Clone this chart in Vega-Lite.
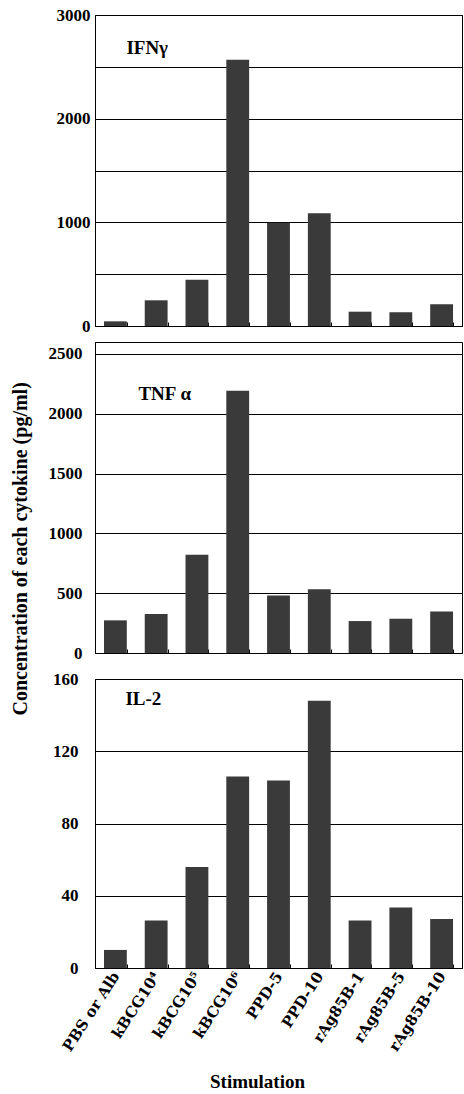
{
  "$schema": "https://vega.github.io/schema/vega-lite/v6.json",
  "background": "white",
  "padding": {"left": 10, "top": 5, "right": 0, "bottom": 0},
  "config": {
    "view": {"stroke": "black", "strokeWidth": 1},
    "font": "Liberation Serif, DejaVu Serif",
    "axisY": {
      "grid": true, "gridColor": "black", "gridOpacity": 1, "gridWidth": 1,
      "domainColor": "black", "ticks": false, "labelPadding": 8, "format": "d",
      "labelFont": "Liberation Serif, DejaVu Serif", "labelFontSize": 17, "labelFontWeight": "bold", "labelColor": "black",
      "title": null
    },
    "axisX": {
      "domainColor": "black", "tickColor": "black", "tickBand": "extent", "tickSize": -4,
      "labelFont": "DejaVu Serif", "labelFontSize": 15, "labelFontWeight": "bold", "labelColor": "black",
      "titleFont": "Liberation Serif, DejaVu Serif", "titleFontSize": 19, "titleFontWeight": "bold", "titleColor": "black"
    }
  },
  "title": {
    "text": "Concentration of each cytokine (pg/ml)", "orient": "left", "anchor": "middle",
    "font": "Liberation Serif, DejaVu Serif", "fontSize": 20, "fontWeight": "bold", "color": "black", "offset": 17
  },
  "datasets": {
    "cyt": [
      {"cytokine": "IFNγ", "stim": "PBS or Alb", "value": 45},
      {"cytokine": "IFNγ", "stim": "kBCG10⁴", "value": 248},
      {"cytokine": "IFNγ", "stim": "kBCG10⁵", "value": 447},
      {"cytokine": "IFNγ", "stim": "kBCG10⁶", "value": 2569},
      {"cytokine": "IFNγ", "stim": "PPD-5", "value": 997},
      {"cytokine": "IFNγ", "stim": "PPD-10", "value": 1087},
      {"cytokine": "IFNγ", "stim": "rAg85B-1", "value": 138},
      {"cytokine": "IFNγ", "stim": "rAg85B-5", "value": 133},
      {"cytokine": "IFNγ", "stim": "rAg85B-10", "value": 209},
      {"cytokine": "TNFα", "stim": "PBS or Alb", "value": 273},
      {"cytokine": "TNFα", "stim": "kBCG10⁴", "value": 326},
      {"cytokine": "TNFα", "stim": "kBCG10⁵", "value": 821},
      {"cytokine": "TNFα", "stim": "kBCG10⁶", "value": 2193},
      {"cytokine": "TNFα", "stim": "PPD-5", "value": 481},
      {"cytokine": "TNFα", "stim": "PPD-10", "value": 534},
      {"cytokine": "TNFα", "stim": "rAg85B-1", "value": 267},
      {"cytokine": "TNFα", "stim": "rAg85B-5", "value": 286},
      {"cytokine": "TNFα", "stim": "rAg85B-10", "value": 347},
      {"cytokine": "IL-2", "stim": "PBS or Alb", "value": 10},
      {"cytokine": "IL-2", "stim": "kBCG10⁴", "value": 26.3},
      {"cytokine": "IL-2", "stim": "kBCG10⁵", "value": 55.9},
      {"cytokine": "IL-2", "stim": "kBCG10⁶", "value": 106},
      {"cytokine": "IL-2", "stim": "PPD-5", "value": 103.8},
      {"cytokine": "IL-2", "stim": "PPD-10", "value": 147.9},
      {"cytokine": "IL-2", "stim": "rAg85B-1", "value": 26.3},
      {"cytokine": "IL-2", "stim": "rAg85B-5", "value": 33.5},
      {"cytokine": "IL-2", "stim": "rAg85B-10", "value": 27.1}
    ]
  },
  "spacing": 6,
  "vconcat": [
    {
      "width": 367, "height": 311,
      "layer": [
        {
          "data": {"name": "cyt"},
          "transform": [{"filter": "datum.cytokine === 'IFNγ'"}],
          "mark": {"type": "bar", "color": "#3a3a3a"},
          "encoding": {
            "x": {"field": "stim", "type": "nominal",
                  "sort": ["PBS or Alb", "kBCG10⁴", "kBCG10⁵", "kBCG10⁶", "PPD-5", "PPD-10", "rAg85B-1", "rAg85B-5", "rAg85B-10"],
                  "scale": {"paddingInner": 0.44, "paddingOuter": 0.22},
                  "axis": {"labels": false, "title": null}},
            "y": {"field": "value", "type": "quantitative", "scale": {"domain": [0, 3000]},
                  "axis": {"values": [0, 500, 1000, 1500, 2000, 2500, 3000], "labelPadding": 5,
                           "labelExpr": "datum.value % 1000 === 0 ? datum.label : ''"}}
          }
        },
        {
          "data": {"values": [{"label": "IFNγ"}]},
          "mark": {"type": "text", "align": "left", "baseline": "middle", "dx": 11,
                   "font": "Liberation Serif, DejaVu Serif", "fontSize": 19, "fontWeight": "bold", "color": "black"},
          "encoding": {
            "x": {"datum": "PBS or Alb", "type": "nominal"},
            "y": {"datum": 2686, "type": "quantitative"},
            "text": {"field": "label"}
          }
        }
      ]
    },
    {
      "width": 367, "height": 311,
      "layer": [
        {
          "data": {"name": "cyt"},
          "transform": [{"filter": "datum.cytokine === 'TNFα'"}],
          "mark": {"type": "bar", "color": "#3a3a3a"},
          "encoding": {
            "x": {"field": "stim", "type": "nominal",
                  "sort": ["PBS or Alb", "kBCG10⁴", "kBCG10⁵", "kBCG10⁶", "PPD-5", "PPD-10", "rAg85B-1", "rAg85B-5", "rAg85B-10"],
                  "scale": {"paddingInner": 0.44, "paddingOuter": 0.22},
                  "axis": {"labels": false, "title": " ", "titleFontSize": 9, "titlePadding": 0}},
            "y": {"field": "value", "type": "quantitative", "scale": {"domain": [0, 2500]},
                  "axis": {"values": [0, 500, 1000, 1500, 2000, 2500], "labelPadding": 13}}
          }
        },
        {
          "data": {"values": [{"label": "TNF α"}]},
          "mark": {"type": "text", "align": "left", "baseline": "middle", "dx": 23,
                   "font": "Liberation Serif, DejaVu Serif", "fontSize": 19, "fontWeight": "bold", "color": "black"},
          "encoding": {
            "x": {"datum": "PBS or Alb", "type": "nominal"},
            "y": {"datum": 2165, "type": "quantitative"},
            "text": {"field": "label"}
          }
        }
      ]
    },
    {
      "width": 367, "height": 289,
      "layer": [
        {
          "data": {"name": "cyt"},
          "transform": [{"filter": "datum.cytokine === 'IL-2'"}],
          "mark": {"type": "bar", "color": "#3a3a3a"},
          "encoding": {
            "x": {"field": "stim", "type": "nominal",
                  "sort": ["PBS or Alb", "kBCG10⁴", "kBCG10⁵", "kBCG10⁶", "PPD-5", "PPD-10", "rAg85B-1", "rAg85B-5", "rAg85B-10"],
                  "scale": {"paddingInner": 0.44, "paddingOuter": 0.22},
                  "axis": {"labelAngle": -57, "labelAlign": "right", "labelBaseline": "middle", "labelPadding": 9,
                           "title": "Stimulation", "titleX": 162, "titlePadding": 19}},
            "y": {"field": "value", "type": "quantitative", "scale": {"domain": [0, 160]},
                  "axis": {"values": [0, 20, 40, 60, 80, 100, 120, 140, 160], "labelPadding": 17,
                           "labelExpr": "datum.value % 40 === 0 ? datum.label : ''"}}
          }
        },
        {
          "data": {"values": [{"label": "IL-2"}]},
          "mark": {"type": "text", "align": "left", "baseline": "middle", "dx": 10,
                   "font": "Liberation Serif, DejaVu Serif", "fontSize": 19, "fontWeight": "bold", "color": "black"},
          "encoding": {
            "x": {"datum": "PBS or Alb", "type": "nominal"},
            "y": {"datum": 148.7, "type": "quantitative"},
            "text": {"field": "label"}
          }
        }
      ]
    }
  ]
}
